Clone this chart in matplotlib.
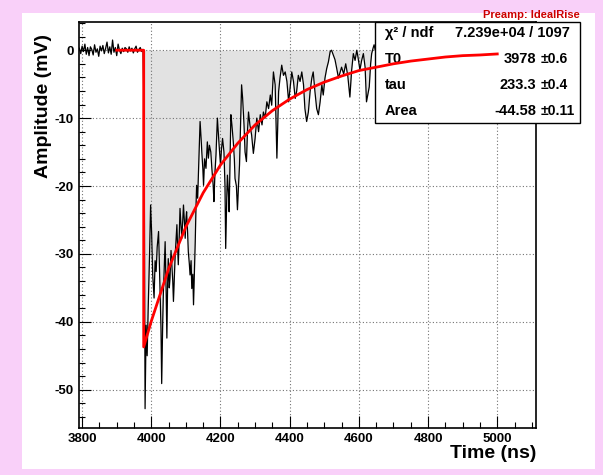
import matplotlib.pyplot as plt
from matplotlib.patches import Rectangle
from matplotlib.ticker import MultipleLocator

W, H = 603, 475

# digitised waveform (ns, mV)
time_ns = [3792, 3796, 3800, 3804, 3808, 3812, 3816, 3820, 3824, 3828, 3832, 3836, 3840, 3844,
           3848, 3852, 3856, 3860, 3864, 3868, 3872, 3876, 3880, 3884, 3888, 3892, 3896, 3900,
           3904, 3908, 3912, 3916, 3920, 3924, 3928, 3932, 3936, 3940, 3944, 3948, 3952, 3956,
           3960, 3964, 3968, 3972, 3976, 3979, 3982, 3985, 3988, 3991, 3995, 3998, 4001, 4004,
           4008, 4011, 4014, 4017, 4021, 4025, 4028, 4030, 4033, 4035, 4038, 4040, 4043, 4045,
           4047, 4049, 4052, 4054, 4057, 4059, 4062, 4064, 4067, 4069, 4072, 4074, 4076, 4078,
           4081, 4083, 4086, 4088, 4091, 4093, 4096, 4098, 4100, 4102, 4105, 4107, 4110, 4112,
           4115, 4117, 4120, 4122, 4125, 4127, 4129, 4131, 4134, 4137, 4141, 4144, 4146, 4149,
           4151, 4154, 4158, 4162, 4165, 4168, 4172, 4175, 4179, 4181, 4184, 4187, 4191, 4194,
           4196, 4200, 4203, 4206, 4210, 4213, 4215, 4218, 4220, 4223, 4225, 4228, 4230, 4233,
           4237, 4240, 4242, 4246, 4249, 4252, 4255, 4258, 4261, 4264, 4268, 4271, 4275, 4278,
           4281, 4285, 4290, 4295, 4300, 4305, 4310, 4315, 4320, 4324, 4329, 4334, 4339, 4344,
           4348, 4353, 4358, 4363, 4368, 4372, 4377, 4382, 4387, 4392, 4397, 4401, 4406, 4411,
           4416, 4420, 4425, 4430, 4435, 4440, 4444, 4449, 4454, 4459, 4464, 4468, 4473, 4478,
           4483, 4488, 4493, 4497, 4502, 4507, 4512, 4517, 4521, 4526, 4531, 4536, 4541, 4550,
           4556, 4562, 4568, 4574, 4579, 4584, 4589, 4594, 4598, 4603, 4608, 4613, 4618, 4622,
           4626, 4630, 4634, 4637, 4641, 4644, 4650, 4660, 4680, 4700]
amp_mv = [0.3, -0.5, 0.6, -0.2, 0.9, -0.6, 0.4, -0.8, 0.5, 0.1, -0.7, 0.8, -0.3, 0.2,
          -0.9, 0.6, -0.1, 0.7, -0.5, 0.3, 1.2, -0.4, 0.5, -0.6, 1.5, -0.3, 0.4, -0.8,
          0.9, 0.0, -0.5, 0.3, -0.2, 0.4, 0.2, -0.3, 0.5, -0.1, 0.3, -0.4, 0.2, 0.6,
          -0.3, 0.1, 0.4, -0.2, 0.1, -9.0, -52.8, -40.5, -45.0, -38.0, -30.0, -22.8, -27.0, -33.1,
          -36.5, -31.0, -32.6, -29.0, -26.7, -34.6, -41.0, -49.1, -40.0, -35.6, -31.0, -28.2, -36.0, -42.4,
          -35.0, -30.7, -35.0, -33.6, -29.5, -31.2, -34.0, -37.0, -33.0, -30.2, -27.5, -25.7, -29.0, -31.6,
          -27.0, -23.3, -26.0, -27.7, -25.0, -22.8, -25.5, -27.7, -25.0, -23.8, -27.0, -29.7, -31.5, -33.1,
          -31.0, -35.1, -33.0, -37.5, -32.0, -28.2, -23.5, -19.9, -21.8, -17.0, -10.5, -13.0, -15.0, -17.5,
          -19.9, -16.0, -17.4, -13.5, -15.9, -14.0, -15.0, -17.4, -20.0, -22.3, -18.0, -15.4, -10.0, -12.5,
          -14.0, -16.9, -14.5, -13.0, -15.0, -20.0, -29.2, -22.0, -18.4, -21.0, -23.8, -15.0, -9.5, -11.0,
          -13.5, -16.0, -18.9, -20.0, -23.5, -20.0, -16.9, -11.0, -5.1, -7.1, -11.0, -15.0, -16.4, -12.0,
          -9.1, -11.0, -12.5, -15.2, -13.0, -10.0, -12.0, -9.5, -11.0, -9.1, -10.0, -7.6, -8.6, -6.6,
          -8.1, -3.2, -5.1, -15.9, -6.1, -4.1, -2.2, -3.7, -3.2, -4.6, -7.6, -5.6, -3.2, -4.6,
          -7.1, -6.1, -3.7, -4.6, -3.2, -5.1, -8.6, -10.5, -9.1, -6.1, -4.1, -3.2, -6.1, -8.6,
          -9.5, -7.6, -5.1, -6.6, -4.1, -2.7, -1.7, -0.2, 0.0, -0.7, -1.4, -2.7, -4.1, -2.5,
          -3.5, -2.0, -3.8, -6.9, -3.0, -0.5, -1.5, 0.0, -1.2, -2.9, -1.5, -0.5, -2.5, -7.6,
          -6.5, -5.4, -2.0, -0.5, 0.3, 0.8, -0.5, -1.0, -0.3, -0.8]

# fitted pulse
fit_t = [3900, 3978, 3978, 4000, 4050, 4100, 4150, 4200, 4250, 4300, 4350, 4400, 4450,
         4500, 4550, 4600, 4650, 4700, 4750, 4800, 4850, 4900, 4950, 5000]
fit_a = [0.0, 0.0, -43.7, -39.9, -32.2, -26.0, -21.0, -16.9, -13.7, -11.0, -8.9, -7.2, -5.8,
         -4.7, -3.8, -3.0, -2.5, -2.0, -1.6, -1.3, -1.0, -0.8, -0.7, -0.55]

stat_names = ["χ² / ndf", "T0", "tau", "Area"]
stat_values = ["7.239e+04 / 1097", "3978", "233.3", "-44.58"]
stat_errors = ["", "±0.6", "±0.4", "±0.11"]

plt.rcParams['font.family'] = ['Liberation Sans', 'DejaVu Sans']
plt.rcParams['font.weight'] = 'bold'
plt.rcParams['axes.unicode_minus'] = False


def fx(x, y):
    # pixel position -> figure fraction
    return x / W, 1 - y / H


fig = plt.figure(figsize=(W / 100, H / 100), dpi=100, facecolor='#f9d0f9')
fig.patches.append(Rectangle(fx(22, 469), 573 / W, 456 / H, transform=fig.transFigure,
                             facecolor='white', edgecolor='none', zorder=-1))

ax = fig.add_axes([79 / W, 1 - 427.7 / H, (536 - 79) / W, (427.7 - 21.7) / H])

ax.fill_between(time_ns, amp_mv, 0, color='#e2e2e2', lw=0, zorder=1)
ax.plot(time_ns, amp_mv, color='black', lw=0.9, zorder=2)
ax.plot(fit_t, fit_a, color='#ff0000', lw=2, zorder=4, clip_on=False)

ax.set_xlim(3791, 5112)
ax.set_ylim(-55.6, 4.2)
ax.xaxis.set_major_locator(MultipleLocator(200))
ax.xaxis.set_minor_locator(MultipleLocator(50))
ax.yaxis.set_major_locator(MultipleLocator(10))
ax.yaxis.set_minor_locator(MultipleLocator(2))
ax.grid(True, which='major', color='0.45', linestyle=(0, (1, 2)), lw=0.8)
ax.tick_params(which='both', direction='in', top=False, right=False, labelsize=9.5, width=0.8)
ax.tick_params(which='major', length=8.5, pad=4)
ax.tick_params(which='minor', length=4.3)
for s in ax.spines.values():
    s.set_linewidth(1.2)

fig.text(*fx(43, 106), "Amplitude (mV)", rotation=90, ha='center', va='center', fontsize=14)
fig.text(*fx(536, 453), "Time (ns)", ha='right', va='center', fontsize=14)
fig.text(*fx(580, 14.5), "Preamp: IdealRise", ha='right', va='center', fontsize=8, color='#cc0000')

# stats box
ax.add_patch(Rectangle(fx(375, 123), 205 / W, 101 / H, transform=fig.transFigure,
                       facecolor='white', edgecolor='black', lw=1, zorder=3, clip_on=False))
rows_y = [33, 59, 85, 111]
for i, name in enumerate(stat_names):
    ax.text(*fx(385, rows_y[i]), name, transform=fig.transFigure, ha='left', va='center',
            fontsize=10.5, zorder=3.5, clip_on=False)
    if stat_errors[i]:
        ax.text(*fx(536, rows_y[i]), stat_values[i], transform=fig.transFigure, ha='right',
                va='center', fontsize=10.5, zorder=3.5, clip_on=False)
        ax.text(*fx(541, rows_y[i]), stat_errors[i], transform=fig.transFigure, ha='left',
                va='center', fontsize=10, zorder=3.5, clip_on=False)
    else:
        ax.text(*fx(570, rows_y[i]), stat_values[i], transform=fig.transFigure, ha='right',
                va='center', fontsize=10.5, zorder=3.5, clip_on=False)

fig.savefig("out.png", dpi=100)
